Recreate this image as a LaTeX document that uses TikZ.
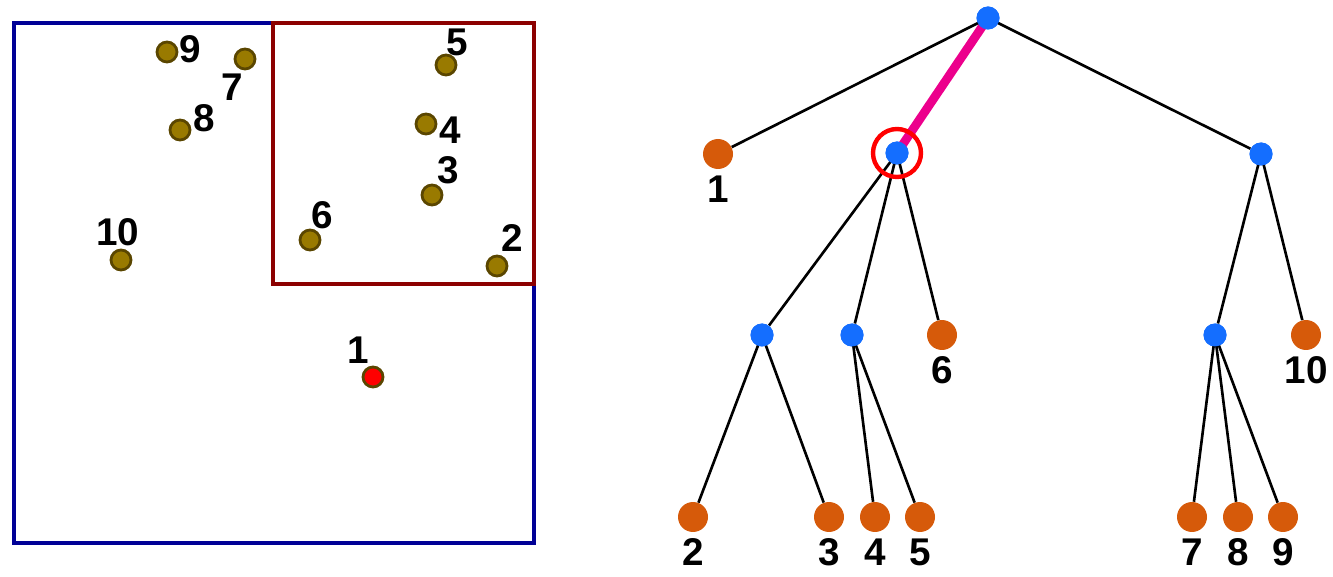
\documentclass[tikz,border=0pt]{standalone}
\usepackage{fontspec}
\setmainfont{Liberation Sans}
\usetikzlibrary{positioning}
\definecolor{olive1}{RGB}{153,122,0}
\definecolor{olive2}{RGB}{90,70,0}
\definecolor{leaf}{RGB}{214,90,10}
\definecolor{inner}{RGB}{20,110,255}
\definecolor{boxblue}{RGB}{0,0,150}
\definecolor{boxred}{RGB}{140,0,0}
\tikzset{
  pt/.style={draw=olive2, fill=olive1, circle, line width=1.6pt, minimum size=0.4cm, inner sep=0pt},
  lf/.style={fill=leaf, circle, minimum size=0.6cm, inner sep=0pt},
  inn/.style={fill=inner, circle, minimum size=0.46cm, inner sep=0pt},
  lab/.style={font=\fontsize{22}{26}\selectfont\bfseries},
  edge/.style={draw, line width=1.5pt}
}
\begin{document}
\begin{tikzpicture}[x=0.02cm,y=-0.02cm]
\useasboundingbox (0,0) rectangle (1333,577);
% boxes
\draw[boxblue, line width=2pt] (14,23) rectangle (534,543);
\draw[boxred, line width=2pt] (273,23) rectangle (534,284);
% points
\node[pt] (p9) at (167,52) {};
\node[pt] (p7) at (245,59) {};
\node[pt] (p8) at (180,130) {};
\node[pt] (p10) at (121,260) {};
\node[pt] (p5) at (446,65) {};
\node[pt] (p4) at (426,124) {};
\node[pt] (p3) at (432,195) {};
\node[pt] (p6) at (310,240) {};
\node[pt] (p2) at (497,266) {};
\node[pt, fill=red] (p1) at (373,377) {};
\node[lab] at (190,49) {9};
\node[lab] at (232,87) {7};
\node[lab] at (204,118) {8};
\node[lab] at (118,232) {10};
\node[lab] at (457,42) {5};
\node[lab] at (450,130) {4};
\node[lab] at (448,170) {3};
\node[lab] at (322,215) {6};
\node[lab] at (512,238) {2};
\node[lab] at (358,350) {1};
% tree nodes
\node[inn] (r) at (988,18) {};
\node[lf] (l1) at (718,154) {};
\node[inn] (a) at (897,153) {};
\node[inn] (b) at (1261,154) {};
\node[inn] (c) at (762,335) {};
\node[inn] (d) at (852,335) {};
\node[lf] (l6) at (942,335) {};
\node[inn] (e) at (1215,335) {};
\node[lf] (l10) at (1306,335) {};
\node[lf] (l2) at (693,517) {};
\node[lf] (l3) at (829,517) {};
\node[lf] (l4) at (875,517) {};
\node[lf] (l5) at (920,517) {};
\node[lf] (l7) at (1192,517) {};
\node[lf] (l8) at (1238,517) {};
\node[lf] (l9) at (1283,517) {};
\node[lab, below=0pt of l1] {1};
\node[lab, below=0pt of l6] {6};
\node[lab, below=0pt of l10] {10};
\foreach \n in {2,3,4,5,7,8,9}
  \node[lab, below=0pt of l\n] {\n};
% edges
\path[edge, magenta, line width=5pt] (r.center) -- (a.center);
\foreach \u/\v in {r/l1, r/b, a/c, a/d, a/l6, b/e, b/l10, c/l2, c/l3, d/l4, d/l5, e/l7, e/l8, e/l9}
  \path[edge] (\u.center) -- (\v);
\foreach \n in {r,a,b,c,d,e}
  \node[inn] at (\n) {};
\draw[red, line width=2.5pt] (a) circle (0.48cm);
\end{tikzpicture}
\end{document}
